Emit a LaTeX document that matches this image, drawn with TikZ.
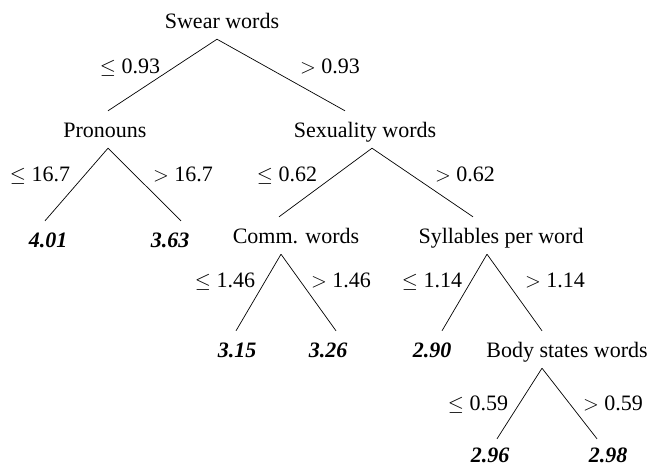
\documentclass[tikz,border=0pt]{standalone}
\usepackage{fontspec}
\setmainfont{Liberation Serif}
\begin{document}
\begin{tikzpicture}[x=1pt,y=-1pt,every node/.style={inner sep=0pt,font=\fontsize{22}{26}\selectfont}]
\tikzstyle{attr}=[anchor=base,text height=15pt,text depth=0pt,inner ysep=11pt]
\tikzstyle{leaf}=[attr,font=\fontsize{22}{26}\selectfont\bfseries\itshape]
\tikzstyle{cond}=[anchor=base]
\tikzstyle{branch}=[draw,line width=0.7pt]
\useasboundingbox (0,0) rectangle (652,467);

\node[attr](swear) at (222,28){Swear words};

\node[attr](pron) at (105,137){Pronouns};
\node[attr](sex) at (365,137){Sexuality words};

\node[leaf](v401) at (48,247){4.01};
\node[leaf](v363) at (170,247){3.63};
\node[attr](comm) at (296,243){Comm. words};
\node[attr](syll) at (501,243){Syllables per word};

\node[leaf](v315) at (237,357){3.15};
\node[leaf](v326) at (328,357){3.26};
\node[leaf](v290) at (432,357){2.90};
\node[attr](body) at (567,357){Body states words};

\node[leaf](v296) at (490,462){2.96};
\node[leaf](v298) at (608,462){2.98};

\path[branch]([xshift=-5pt]swear.south)--([xshift=3pt]pron.north);
\path[branch]([xshift=-5pt]swear.south)--([xshift=-20pt]sex.north);

\path[branch]([xshift=3pt]pron.south)--([xshift=-3pt]v401.north);
\path[branch]([xshift=3pt]pron.south)--([xshift=11pt]v363.north);

\path[branch]([xshift=7pt]sex.south)--([xshift=-17pt]comm.north);
\path[branch]([xshift=7pt]sex.south)--([xshift=-28pt]syll.north);

\path[branch]([xshift=-15pt]comm.south)--([xshift=-1pt]v315.north);
\path[branch]([xshift=-15pt]comm.south)--([xshift=8pt]v326.north);

\path[branch]([xshift=-14pt]syll.south)--([xshift=10pt]v290.north);
\path[branch]([xshift=-14pt]syll.south)--([xshift=-25pt]body.north);

\path[branch]([xshift=-25pt]body.south)--([xshift=7pt,yshift=-3pt]v296.north);
\path[branch]([xshift=-25pt]body.south)--([xshift=-11pt,yshift=-3pt]v298.north);

% split values
\node[cond](c1) at (130,73){$\leq$~0.93};
\node[cond](c2) at (330,73){$>$~0.93};
\node[cond](c3) at (40,181){$\leq$~16.7};
\node[cond](c4) at (183,181){$>$~16.7};
\node[cond](c5) at (287,181){$\leq$~0.62};
\node[cond](c6) at (465,181){$>$~0.62};
\node[cond](c7) at (225,287){$\leq$~1.46};
\node[cond](c8) at (341,287){$>$~1.46};
\node[cond](c9) at (432,287){$\leq$~1.14};
\node[cond](c10) at (555,287){$>$~1.14};
\node[cond](c11) at (478,410){$\leq$~0.59};
\node[cond](c12) at (613,410){$>$~0.59};
\end{tikzpicture}
\end{document}
